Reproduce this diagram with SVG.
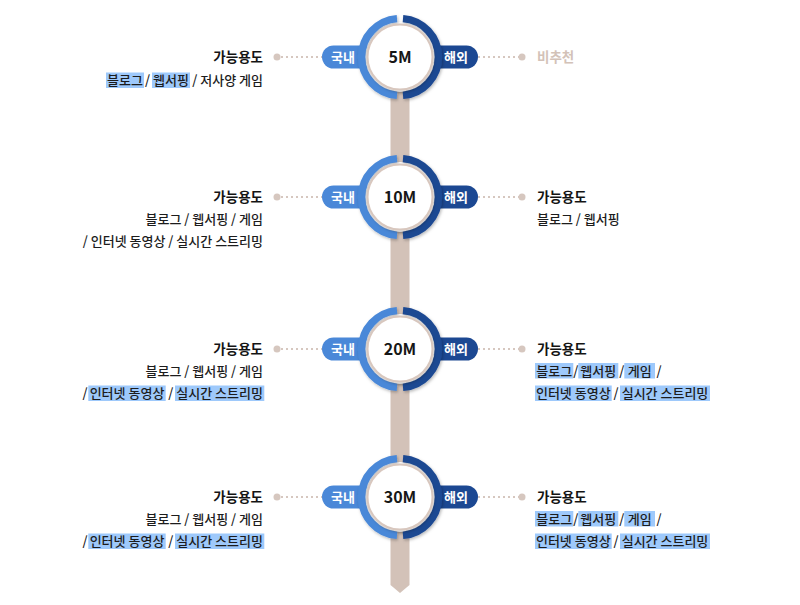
<svg xmlns="http://www.w3.org/2000/svg" width="800" height="605" viewBox="0 0 800 605">
<defs>
<style>
text{font-family:"Noto Sans CJK KR","Noto Sans",sans-serif;}
.t{font-size:13.5px;font-weight:700;fill:#141414;}
.s{font-size:13px;font-weight:500;fill:#1c1c1c;}
.na{font-size:13.5px;font-weight:700;fill:#d3c2b8;}
.pt{font-size:13px;font-weight:700;fill:#fff;text-anchor:middle;}
.ct{font-size:16px;font-weight:700;fill:#161616;text-anchor:middle;}
.hl{fill:#9ec9fb;}
.pin{fill:#4a88d8;}
.pout{fill:#1c4892;}
.ain{fill:none;stroke:#4a88d8;stroke-width:7.5;}
.aout{fill:none;stroke:#1c4892;stroke-width:7.5;}
.disk{fill:#fff;}
.inner{fill:#fff;stroke:#d8c7be;stroke-width:2;}
.dot{stroke:#d6c7bf;stroke-width:2;stroke-dasharray:2 3;fill:none;}
.dd{fill:#d6c7bf;}
</style>
<filter id="sh" x="-30%" y="-30%" width="160%" height="160%">
<feDropShadow dx="1" dy="1.5" stdDeviation="1.6" flood-color="#000" flood-opacity="0.28"/>
</filter>
<g id="badge">
<rect class="pin" x="-78" y="-11.5" width="62" height="23" rx="11.5"/>
<rect class="pout" x="16" y="-11.5" width="62" height="23" rx="11.5"/>
<circle class="disk" r="35" filter="url(#sh)"/>
<path class="ain" d="M -3 -38.38 A 38.5 38.5 0 0 0 -3 38.38" filter="url(#sh)"/>
<path class="aout" d="M 3 -38.38 A 38.5 38.5 0 0 1 3 38.38" filter="url(#sh)"/>
<circle class="inner" r="32.5" filter="url(#sh)"/>
<text class="pt" x="-57" y="4.6">국내</text>
<text class="pt" x="56" y="4.6">해외</text>
</g>
</defs>

<g id="connectors">
<polygon points="390.5,60 409.5,60 409.5,585 400,593 390.5,585" fill="#d3c2b8"/>
<line class="dot" x1="281" y1="57" x2="322" y2="57"/>
<line class="dot" x1="478" y1="57" x2="519" y2="57"/>
<circle class="dd" cx="277" cy="57" r="3.5"/>
<circle class="dd" cx="522" cy="57" r="3.5"/>
<line class="dot" x1="281" y1="197" x2="322" y2="197"/>
<line class="dot" x1="478" y1="197" x2="519" y2="197"/>
<circle class="dd" cx="277" cy="197" r="3.5"/>
<circle class="dd" cx="522" cy="197" r="3.5"/>
<line class="dot" x1="281" y1="349" x2="322" y2="349"/>
<line class="dot" x1="478" y1="349" x2="519" y2="349"/>
<circle class="dd" cx="277" cy="349" r="3.5"/>
<circle class="dd" cx="522" cy="349" r="3.5"/>
<line class="dot" x1="281" y1="497" x2="322" y2="497"/>
<line class="dot" x1="478" y1="497" x2="519" y2="497"/>
<circle class="dd" cx="277" cy="497" r="3.5"/>
<circle class="dd" cx="522" cy="497" r="3.5"/>
</g>

<g id="node-5m">
<use href="#badge" x="400" y="57"/>
<text class="ct" x="400" y="62.5">5M</text>
<text class="t" x="263" y="62" text-anchor="end">가능용도</text>
<rect class="hl" x="106" y="72.5" width="38" height="15.5"/>
<rect class="hl" x="152" y="72.5" width="38" height="15.5"/>
<text class="s" y="85"><tspan x="125" text-anchor="middle">블로그</tspan><tspan x="147.5" text-anchor="middle">/</tspan><tspan x="171" text-anchor="middle">웹서핑</tspan></text>
<text class="s" x="263" y="85" text-anchor="end">/ 저사양 게임</text>
<text class="na" x="537" y="62">비추천</text>
</g>

<g id="node-10m">
<use href="#badge" x="400" y="197"/>
<text class="ct" x="400" y="202.5">10M</text>
<text class="t" x="263" y="202" text-anchor="end">가능용도</text>
<text class="s" x="263" y="223.8" text-anchor="end">블로그 / 웹서핑 / 게임</text>
<text class="s" x="263" y="245.8" text-anchor="end">/ 인터넷 동영상 / 실시간 스트리밍</text>
<text class="t" x="537" y="202">가능용도</text>
<text class="s" x="537" y="223.8">블로그 / 웹서핑</text>
</g>

<g id="node-20m">
<use href="#badge" x="400" y="349"/>
<text class="ct" x="400" y="354.5">20M</text>
<text class="t" x="263" y="354" text-anchor="end">가능용도</text>
<text class="s" x="263" y="375.8" text-anchor="end">블로그 / 웹서핑 / 게임</text>
<rect class="hl" x="88.3" y="385.5" width="77.4" height="15.5"/>
<rect class="hl" x="175" y="385.5" width="89.3" height="15.5"/>
<text class="s" y="398"><tspan x="85" text-anchor="middle">/</tspan><tspan x="127" text-anchor="middle">인터넷 동영상</tspan><tspan x="170.7" text-anchor="middle">/</tspan><tspan x="219.6" text-anchor="middle">실시간 스트리밍</tspan></text>
<text class="t" x="537" y="354">가능용도</text>
<rect class="hl" x="535" y="363" width="38.3" height="15.5"/>
<rect class="hl" x="578.3" y="363" width="40" height="15.5"/>
<rect class="hl" x="624.3" y="363" width="30.7" height="15.5"/>
<text class="s" y="375.7"><tspan x="554.2" text-anchor="middle">블로그</tspan><tspan x="575.7" text-anchor="middle">/</tspan><tspan x="598.3" text-anchor="middle">웹서핑</tspan><tspan x="621.7" text-anchor="middle">/</tspan><tspan x="639.7" text-anchor="middle">게임</tspan><tspan x="659" text-anchor="middle">/</tspan></text>
<rect class="hl" x="535" y="385.5" width="76.7" height="15.5"/>
<rect class="hl" x="620" y="385.5" width="90" height="15.5"/>
<text class="s" y="398"><tspan x="573.3" text-anchor="middle">인터넷 동영상</tspan><tspan x="616" text-anchor="middle">/</tspan><tspan x="665" text-anchor="middle">실시간 스트리밍</tspan></text>
</g>

<g id="node-30m">
<use href="#badge" x="400" y="497"/>
<text class="ct" x="400" y="502.5">30M</text>
<text class="t" x="263" y="502" text-anchor="end">가능용도</text>
<text class="s" x="263" y="523.8" text-anchor="end">블로그 / 웹서핑 / 게임</text>
<rect class="hl" x="88.3" y="533.5" width="77.4" height="15.5"/>
<rect class="hl" x="175" y="533.5" width="89.3" height="15.5"/>
<text class="s" y="546"><tspan x="85" text-anchor="middle">/</tspan><tspan x="127" text-anchor="middle">인터넷 동영상</tspan><tspan x="170.7" text-anchor="middle">/</tspan><tspan x="219.6" text-anchor="middle">실시간 스트리밍</tspan></text>
<text class="t" x="537" y="502">가능용도</text>
<rect class="hl" x="535" y="511" width="38.3" height="15.5"/>
<rect class="hl" x="578.3" y="511" width="40" height="15.5"/>
<rect class="hl" x="624.3" y="511" width="30.7" height="15.5"/>
<text class="s" y="523.7"><tspan x="554.2" text-anchor="middle">블로그</tspan><tspan x="575.7" text-anchor="middle">/</tspan><tspan x="598.3" text-anchor="middle">웹서핑</tspan><tspan x="621.7" text-anchor="middle">/</tspan><tspan x="639.7" text-anchor="middle">게임</tspan><tspan x="659" text-anchor="middle">/</tspan></text>
<rect class="hl" x="535" y="533.5" width="76.7" height="15.5"/>
<rect class="hl" x="620" y="533.5" width="90" height="15.5"/>
<text class="s" y="546"><tspan x="573.3" text-anchor="middle">인터넷 동영상</tspan><tspan x="616" text-anchor="middle">/</tspan><tspan x="665" text-anchor="middle">실시간 스트리밍</tspan></text>
</g>
</svg>
